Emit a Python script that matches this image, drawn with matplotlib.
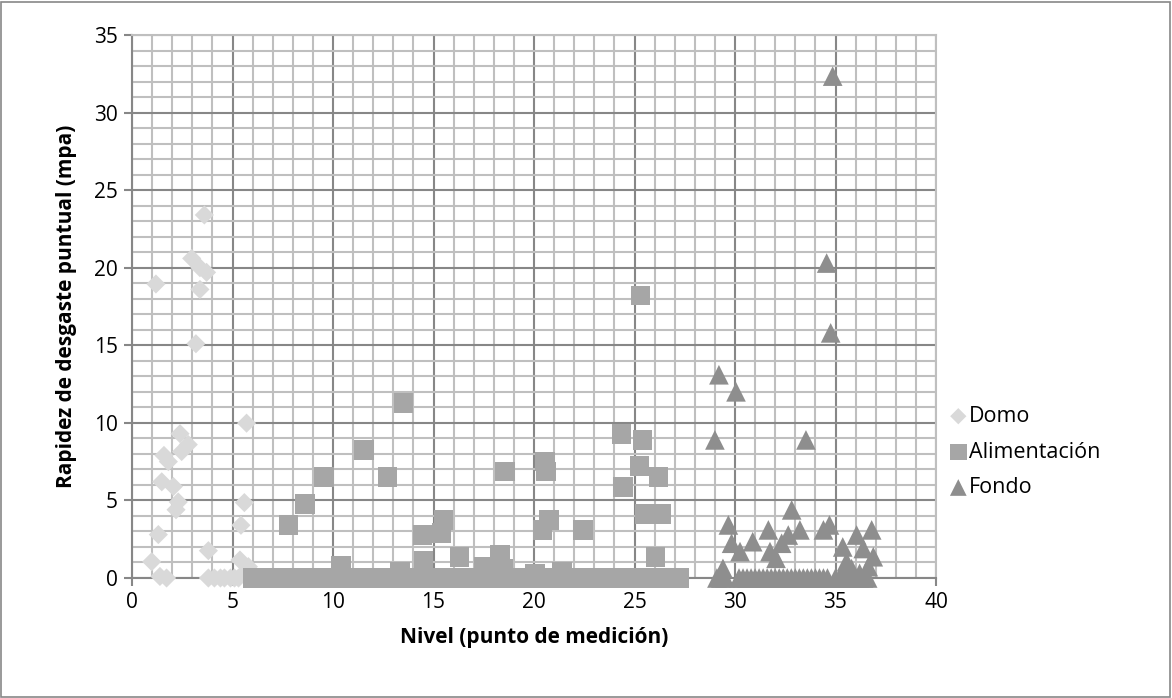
import matplotlib
matplotlib.use("Agg")
import matplotlib.pyplot as plt
from matplotlib.ticker import MultipleLocator
from matplotlib.patches import Rectangle

plt.rcParams['font.family'] = ['Open Sans', 'DejaVu Sans']

# ---- Data ----
domo_x = [3.6, 2.97, 3.38, 3.71, 1.19, 3.38, 3.18, 5.7, 2.39, 2.8, 2.47, 1.59, 1.81,
          1.48, 2.06, 2.3, 2.19, 5.59, 5.42, 1.31, 3.8, 0.98, 5.37, 5.79, 1.39, 1.72,
          3.8, 4.1, 4.4, 4.6, 4.9, 5.1, 5.3, 5.6]
domo_y = [23.4, 20.6, 20.0, 19.7, 18.95, 18.6, 15.1, 9.98, 9.3, 8.6, 8.15, 7.9, 7.5,
          6.2, 5.9, 4.9, 4.4, 4.86, 3.4, 2.8, 1.76, 1.05, 1.16, 0.73, 0.1, 0.0,
          0.0, 0.0, 0.0, 0.0, 0.0, 0.0, 0.0, 0.3]

alim_x = [7.78, 8.6, 9.55, 11.54, 12.72, 13.5, 10.4, 13.33, 14.46, 14.5, 15.5, 15.4,
          16.3, 17.5, 18.3, 18.47, 18.56, 20.55, 20.6, 20.43, 20.75, 20.05, 21.4, 22.45,
          24.36, 25.4, 25.24, 26.2, 24.44, 25.5, 26.35, 26.05, 25.3]
alim_y = [3.42, 4.77, 6.5, 8.26, 6.5, 11.3, 0.8, 0.4, 2.77, 1.1, 3.74, 2.9,
          1.37, 0.7, 1.48, 0.6, 6.86, 7.5, 6.86, 3.1, 3.74, 0.3, 0.4, 3.1,
          9.3, 8.9, 7.2, 6.5, 5.85, 4.13, 4.13, 1.37, 18.2]
alim_zero_x = [6.0, 6.25, 6.5, 6.75, 7.0, 7.25, 7.5, 7.75, 8.0, 8.25, 8.5, 8.75, 9.0,
               9.25, 9.5, 9.75, 10.0, 10.25, 10.5, 10.75, 11.0, 11.25, 11.5, 11.75, 12.0,
               12.25, 12.5, 12.75, 13.0, 13.25, 13.5, 13.75, 14.0, 14.25, 14.5, 14.75,
               15.0, 15.25, 15.5, 15.75, 16.0, 16.25, 16.5, 16.75, 17.0, 17.25, 17.5,
               17.75, 18.0, 18.25, 18.5, 18.75, 19.0, 19.25, 19.5, 19.75, 20.0, 20.25,
               20.5, 20.75, 21.0, 21.25, 21.5, 21.75, 22.0, 22.25, 22.5, 22.75, 23.0,
               23.25, 23.5, 23.75, 24.0, 24.25, 24.5, 24.75, 25.0, 25.25, 25.5, 25.75,
               26.0, 26.25, 26.5, 26.75, 27.0, 27.2]
alim_zero_y = [0.0] * len(alim_zero_x)

fondo_x = [34.86, 34.56, 34.76, 29.2, 30.05, 29.0, 33.53, 32.82, 29.67, 29.83, 30.25,
           30.88, 31.66, 31.74, 32.04, 32.32, 32.65, 33.23, 34.4, 34.7, 35.36, 35.55,
           36.05, 36.38, 36.8, 36.88, 36.63, 29.4, 35.4, 35.8, 36.2]
fondo_y = [32.35, 20.3, 15.8, 13.1, 12.0, 8.9, 8.9, 4.39, 3.42, 2.24, 1.7,
           2.34, 3.1, 1.7, 1.27, 2.24, 2.77, 3.1, 3.1, 3.42, 2.0, 1.05,
           2.77, 1.9, 3.1, 1.37, 0.73, 0.62, 0.4, 0.6, 0.3]
fondo_zero_x = [29.1, 29.3, 29.5, 30.2, 30.4, 30.6, 30.8, 31.0, 31.2, 31.4, 31.6, 31.8,
                32.0, 32.2, 32.4, 32.6, 32.8, 33.0, 33.2, 33.4, 33.6, 33.8, 34.0, 34.2,
                34.4, 34.6, 35.0, 35.2, 35.4, 35.6, 35.8, 36.0, 36.2, 36.4, 36.6]
fondo_zero_y = [0.0] * len(fondo_zero_x)

c_domo = '#d9d9d9'
c_alim = '#a6a6a6'
c_fondo = '#8e8e8e'

fig = plt.figure(figsize=(11.72, 6.98), dpi=100)
ax = fig.add_axes([132 / 1172, 1 - 578 / 698, 804 / 1172, 543 / 698])

# outer border
fig.patches.append(Rectangle((1 / 1172, 1 / 698), 1169 / 1172, 695 / 698,
                             transform=fig.transFigure, fill=False,
                             edgecolor='#888888', linewidth=1.2))

ax.set_xlim(0, 40)
ax.set_ylim(0, 35)
ax.xaxis.set_major_locator(MultipleLocator(5))
ax.yaxis.set_major_locator(MultipleLocator(5))
ax.xaxis.set_minor_locator(MultipleLocator(1))
ax.yaxis.set_minor_locator(MultipleLocator(1))
ax.grid(which='minor', color='#bfbfbf', linewidth=1.5, zorder=0)
ax.grid(which='major', color='#878787', linewidth=1.5, zorder=0)
ax.set_axisbelow(True)
for s in ['top', 'right']:
    ax.spines[s].set_color('#bfbfbf')
    ax.spines[s].set_linewidth(1.5)
for s in ['left', 'bottom']:
    ax.spines[s].set_color('#878787')
    ax.spines[s].set_linewidth(1.5)
ax.tick_params(which='major', direction='out', length=6, width=1.5, color='#878787',
               labelsize=15, pad=4)
ax.tick_params(which='minor', length=0)

ax.scatter(domo_x, domo_y, marker='D', s=95, color=c_domo, edgecolors='none',
           zorder=3, label='Domo', clip_on=False)
ax.scatter(alim_zero_x + alim_x, alim_zero_y + alim_y, marker='s', s=200, color=c_alim,
           edgecolors='none', zorder=3, label='Alimentación', clip_on=False)
ax.scatter(fondo_zero_x + fondo_x, fondo_zero_y + fondo_y, marker='^', s=200,
           color=c_fondo, edgecolors='none', zorder=3, label='Fondo', clip_on=False)

ax.set_xlabel('Nivel (punto de medición)', fontsize=15, fontweight='bold', labelpad=10)
ax.set_ylabel('Rapidez de desgaste puntual (mpa)', fontsize=15, fontweight='bold',
              labelpad=12)

leg = ax.legend(loc='center left', bbox_to_anchor=(940 / 1172, 1 - 452 / 698),
                bbox_transform=fig.transFigure, frameon=False, fontsize=15.5,
                handletextpad=0.05, labelspacing=0.68, markerscale=0.85,
                handlelength=0.9, borderaxespad=0)

fig.savefig('out.png', dpi=100)
